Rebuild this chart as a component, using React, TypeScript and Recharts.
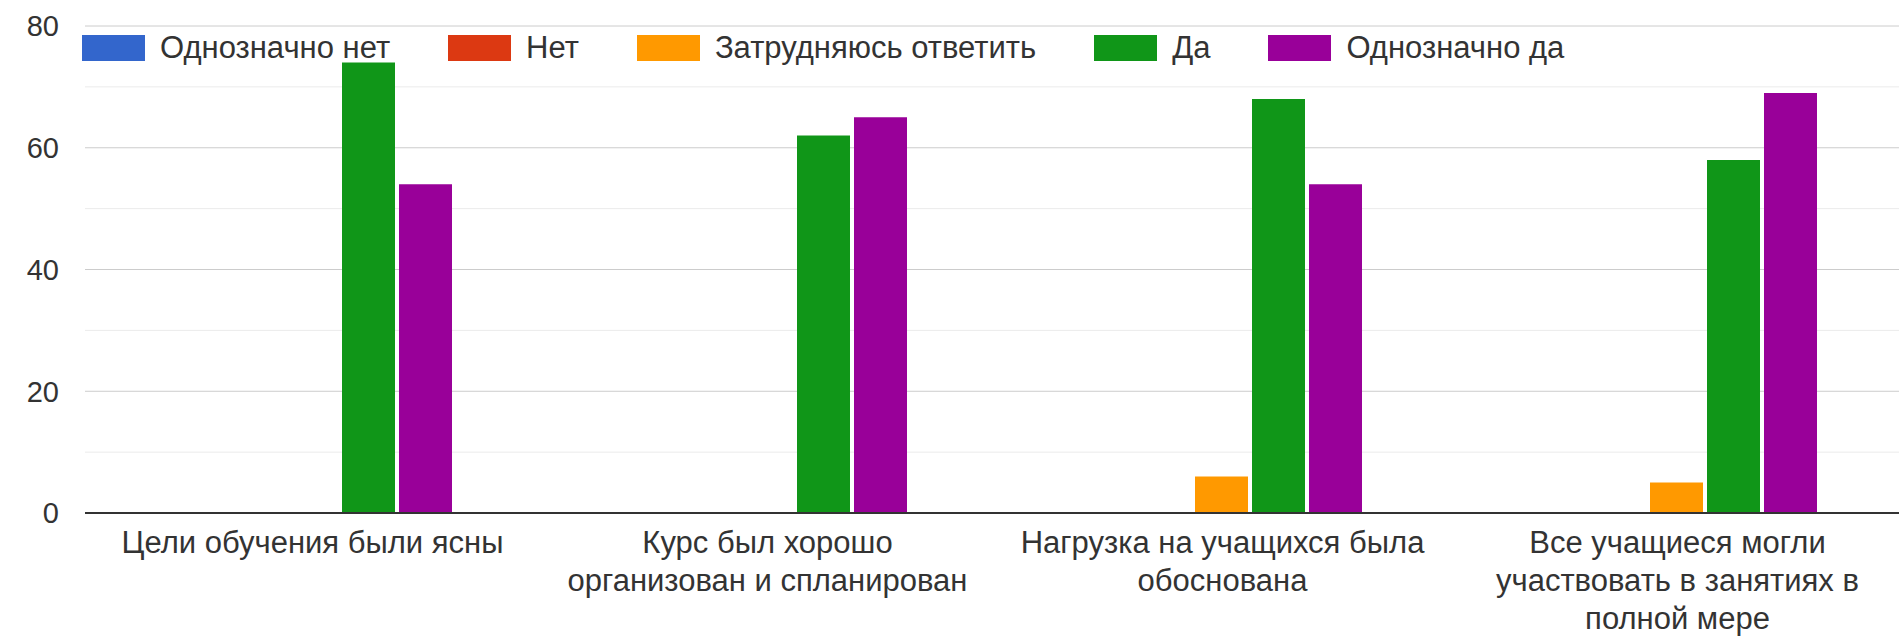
import React from 'react';
import { BarChart, Bar, XAxis, YAxis, CartesianGrid } from 'recharts';

// categories (explicit line breaks as in the picture)
const categories = [
  'Цели обучения были ясны',
  'Курс был хорошо\nорганизован и спланирован',
  'Нагрузка на учащихся была\nобоснована',
  'Все учащиеся могли\nучаствовать в занятиях в\nполной мере',
];

const seriesNames = ['Однозначно нет', 'Нет', 'Затрудняюсь ответить', 'Да', 'Однозначно да'];
const seriesColors = ['#3366cc', '#dc3912', '#ff9900', '#109618', '#990099'];

const definitelyNo = [0, 0, 0, 0];
const no = [0, 0, 0, 0];
const hardToSay = [0, 0, 6, 5];
const yes = [74, 62, 68, 58];
const definitelyYes = [54, 65, 54, 69];

const yTicks = [0, 10, 20, 30, 40, 50, 60, 70, 80];
const majorLines = [20, 40, 60, 80];
const minorLines = [10, 30, 50, 70];

const seriesValues = [definitelyNo, no, hardToSay, yes, definitelyYes];

const chartData = categories.map((name, i) => {
  const row: { [key: string]: string | number } = { name };
  seriesNames.forEach((s, j) => {
    row[s] = seriesValues[j][i];
  });
  return row;
});

const FONT = '"Liberation Sans", Arial, sans-serif';

const CategoryTick = (props: any) => {
  const { x, y, payload } = props;
  const lines = String(payload.value).split('\n');
  return (
    <text x={x} y={y} textAnchor="middle" fill="#333" fontSize={31} fontFamily={FONT}>
      {lines.map((line, i) => (
        <tspan key={i} x={x} dy={i === 0 ? 38 : 38}>
          {line}
        </tspan>
      ))}
    </text>
  );
};

const App: React.FC = () => {
  return (
    <div style={{ position: 'absolute', left: 0, top: 0, width: 1899, height: 637, background: '#fff', overflow: 'hidden' }}>
      <BarChart
        width={1899}
        height={637}
        data={chartData}
        margin={{ top: 26, right: -6, left: 15, bottom: 0 }}
        barCategoryGap={86}
        barGap={4}
      >
        <CartesianGrid vertical={false} stroke="#ebebeb" horizontalValues={minorLines} />
        <CartesianGrid vertical={false} stroke="#cccccc" horizontalValues={majorLines} />
        <XAxis
          dataKey="name"
          interval={0}
          height={124}
          tickLine={false}
          tickSize={0}
          axisLine={{ stroke: '#333', strokeWidth: 2 }}
          tick={<CategoryTick />}
        />
        <YAxis
          width={70}
          domain={[0, 80]}
          ticks={yTicks}
          interval={0}
          tickLine={false}
          tickSize={0}
          tickMargin={26}
          axisLine={false}
          tickFormatter={(v: number) => (v % 20 === 0 ? String(v) : '')}
          tick={{ fill: '#333', fontSize: 29, fontFamily: FONT }}
        />
        {seriesNames.map((s, i) => (
          <Bar key={s} dataKey={s} fill={seriesColors[i]} isAnimationActive={false} />
        ))}
      </BarChart>
      <div
        style={{
          position: 'absolute',
          left: 82,
          top: 33,
          display: 'flex',
          alignItems: 'center',
          fontFamily: FONT,
          fontSize: 31,
          lineHeight: '30px',
          color: '#333',
        }}
      >
        {seriesNames.map((s, i) => (
          <div key={s} style={{ display: 'flex', alignItems: 'center', marginRight: 58 }}>
            <span style={{ display: 'inline-block', width: 63, height: 26, background: seriesColors[i], marginRight: 15 }} />
            {s}
          </div>
        ))}
      </div>
    </div>
  );
};

export default App;
